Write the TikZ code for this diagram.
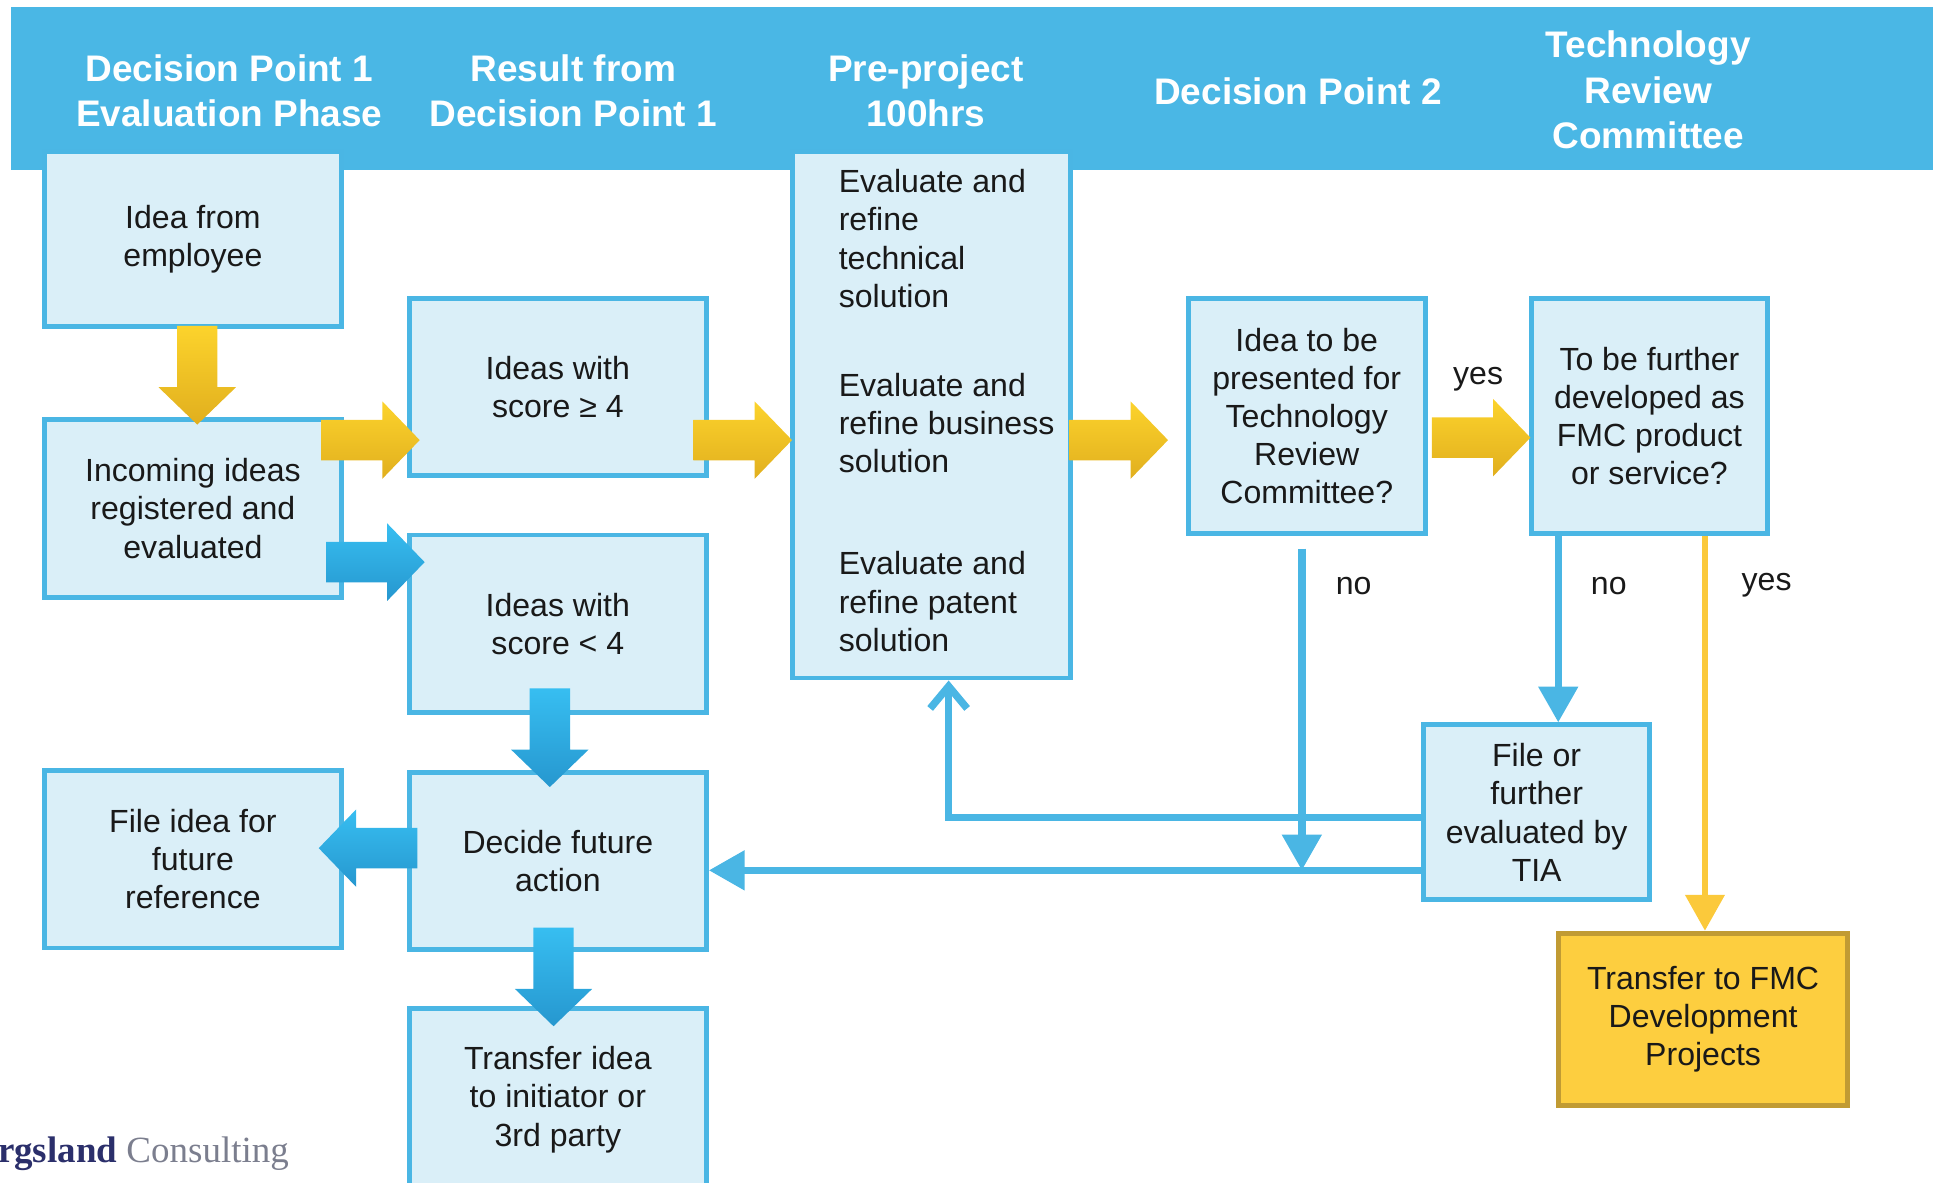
\documentclass[tikz,border=0pt]{standalone}
\usepackage{fontspec}
\setmainfont{Liberation Sans}
\newfontfamily\logofont{Liberation Serif}
\usetikzlibrary{shapes.arrows, arrows.meta}

\definecolor{bandblue}{HTML}{4AB7E5}
\definecolor{boxfill}{HTML}{DAEFF8}
\definecolor{boxline}{HTML}{4AB6E4}
\definecolor{ylight}{HTML}{FCD32C}
\definecolor{ydark}{HTML}{E1AF1E}
\definecolor{blight}{HTML}{37BEF1}
\definecolor{bdark}{HTML}{2697CF}
\definecolor{goldfill}{HTML}{FDCE3F}
\definecolor{goldline}{HTML}{C19B33}
\definecolor{yline}{HTML}{FBC93B}
\definecolor{logonavy}{HTML}{2B2F6B}
\definecolor{logogray}{HTML}{7B7E8E}

\begin{document}
\begin{tikzpicture}[x=0.5pt, y=0.5pt,
    box/.style={draw=boxline, fill=boxfill, line width=2pt, align=center, inner sep=0pt,
      text=black!90, font=\fontsize{13pt}{15.5pt}\selectfont},
    boxtext/.style={align=left, inner sep=0pt, text=black!90, font=\fontsize{13pt}{15.5pt}\selectfont},
    headtext/.style={text=white, align=center, font=\bfseries\fontsize{15pt}{18.5pt}\selectfont},
    lbl/.style={inner sep=0pt, text=black!90, font=\fontsize{13pt}{15.5pt}\selectfont},
    blockarrow/.style={single arrow, anchor=tip, minimum height=40pt, inner xsep=0pt, inner ysep=8pt,
      single arrow head extend=7.5pt, single arrow tip angle=92},
    yarrow/.style={blockarrow, top color=ylight, bottom color=ydark},
    barrow/.style={blockarrow, top color=blight, bottom color=bdark},
    link/.style={draw=boxline, line width=3pt, -{Triangle[length=14.5pt,width=15.5pt]}},
    backlink/.style={draw=boxline, line width=3pt, -{Straight Barb[length=9pt,width=15pt]}},
    ylink/.style={draw=yline, line width=2.5pt, -{Triangle[length=14.5pt,width=15.5pt]}}]
      \useasboundingbox (0,0) rectangle (1568,959);

      % header band
      \fill[bandblue] (9,821) rectangle (1568,953);
      \node[headtext] at (186,885.5) (hone) {Decision Point 1\\Evaluation Phase};
      \node[headtext] at (465,885.5) (htwo) {Result from\\Decision Point 1};
      \node[headtext] at (751,885.5) (hthree) {Pre-project\\100hrs};
      \node[headtext] at (1053,885) (hfour) {Decision Point 2};
      \node[headtext] at (1337,886) (hfive) {Technology\\Review\\Committee};

      % boxes
      \node[box, minimum width=120.5pt, minimum height=71pt] at (156.5,765) (idea) {Idea from\\employee};
      \node[box, minimum width=120.5pt, minimum height=72.5pt] at (156.5,546.5) (incoming) {Incoming ideas\\registered and\\evaluated};
      \node[box, minimum width=120.5pt, minimum height=72pt] at (452.5,645) (high) {Ideas with\\score ≥ 4};
      \node[box, minimum width=120.5pt, minimum height=72pt] at (452.5,453) (low) {Ideas with\\score < 4};

      \node[box, minimum width=112.5pt, minimum height=213.5pt] at (755.5,622.5) (prep) {};
      \node[boxtext, anchor=west] at (680,765.5) (prepa) {Evaluate and\\refine\\technical\\solution};
      \node[boxtext, anchor=west] at (680,616) (prepb) {Evaluate and\\refine business\\solution};
      \node[boxtext, anchor=west] at (680,471) (prepc) {Evaluate and\\refine patent\\solution};

      \node[box, minimum width=96pt, minimum height=95.5pt] at (1060,621.5) (dptwo) {Idea to be\\presented for\\Technology\\Review\\Committee?};
      \node[box, minimum width=96pt, minimum height=95.5pt] at (1338,621.5) (trc) {To be further\\developed as\\FMC product\\or service?};
      \node[box, minimum width=91.5pt, minimum height=71pt] at (1246.5,300) (tia) {File or\\further\\evaluated by\\TIA};
      \node[box, draw=goldline, fill=goldfill, minimum width=117.5pt, minimum height=70pt] at (1381.5,132) (fmc) {Transfer to FMC\\Development\\Projects};

      \node[box, minimum width=120.5pt, minimum height=72pt] at (156.5,262) (file) {File idea for\\future\\reference};
      \node[box, minimum width=120.5pt, minimum height=71.5pt] at (452.5,260.5) (decide) {Decide future\\action};
      \node[box, minimum width=120.5pt, minimum height=74pt] at (452.5,67) (transfer) {Transfer idea\\to initiator or\\3rd party};

      % block arrows
      \node[yarrow, rotate=-90] at (160,614) (ydown) {};
      \node[yarrow] at (341,602) (yone) {};
      \node[barrow] at (345,503) (bone) {};
      \node[yarrow] at (643,602) (ytwo) {};
      \node[yarrow] at (948,602) (ythree) {};
      \node[yarrow] at (1242,604) (yfour) {};
      \node[barrow, rotate=-90] at (446,320) (bdown) {};
      \node[barrow, rotate=180] at (258,271) (bleft) {};
      \node[barrow, rotate=-90] at (449,126) (bdowntwo) {};

      % thin connectors
      \coordinate (ret) at ([yshift=-23.5pt]tia.west);
      \coordinate (up) at ([yshift=-2pt]tia.west);
      \coordinate (dpno) at ([shift={(-2pt,-5pt)}]dptwo.south);
      \coordinate (trcno) at ([xshift=-37pt]trc.south);
      \coordinate (trcyes) at ([xshift=22.5pt]trc.south);

      \draw[link] (ret) -- (ret -| decide.east);
      \draw[backlink] (up) -| ([xshift=7pt]prep.south);
      \draw[link] (dpno) -- (dpno |- ret);
      \draw[link] (trcno) -- (trcno |- tia.north);
      \draw[ylink] (trcyes) -- (trcyes |- fmc.north);

      \node[lbl] at (1199,651) (yesone) {yes};
      \node[lbl] at (1098,484) (noone) {no};
      \node[lbl] at (1305,484) (notwo) {no};
      \node[lbl] at (1433,484) (yestwo) {yes};

      % --------------------------------------------------------------------------
      \node[anchor=base west, inner sep=0pt, font=\logofont\fontsize{15pt}{15pt}\selectfont] at (-2,16) (logo)
        {\textcolor{logonavy}{\bfseries rgsland} \textcolor{logogray}{Consulting}};
    \end{tikzpicture}
\end{document}
